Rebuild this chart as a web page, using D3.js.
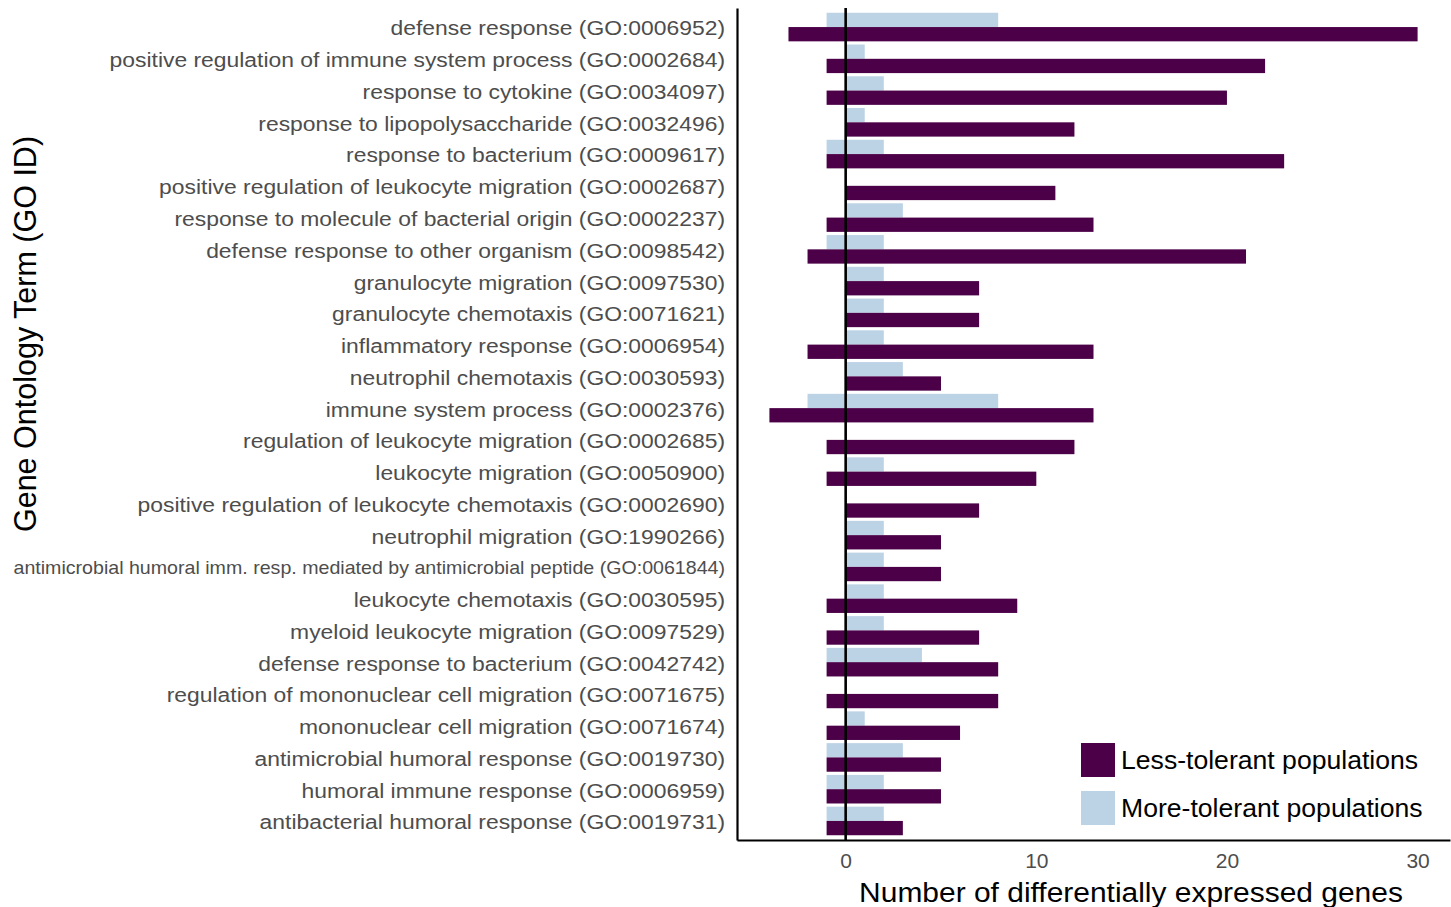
<!DOCTYPE html>
<html>
<head>
<meta charset="utf-8">
<script src="https://cdn.jsdelivr.net/npm/d3@7"></script>
<style>
  html, body { margin: 0; padding: 0; background: #ffffff; }
  svg { display: block; font-family: "Liberation Sans", Arial, sans-serif; }
</style>
</head>
<body>
<svg id="chart" width="1451" height="907"></svg>
<script>
// GO terms, top to bottom
const terms = [
  "defense response (GO:0006952)",
  "positive regulation of immune system process (GO:0002684)",
  "response to cytokine (GO:0034097)",
  "response to lipopolysaccharide (GO:0032496)",
  "response to bacterium (GO:0009617)",
  "positive regulation of leukocyte migration (GO:0002687)",
  "response to molecule of bacterial origin (GO:0002237)",
  "defense response to other organism (GO:0098542)",
  "granulocyte migration (GO:0097530)",
  "granulocyte chemotaxis (GO:0071621)",
  "inflammatory response (GO:0006954)",
  "neutrophil chemotaxis (GO:0030593)",
  "immune system process (GO:0002376)",
  "regulation of leukocyte migration (GO:0002685)",
  "leukocyte migration (GO:0050900)",
  "positive regulation of leukocyte chemotaxis (GO:0002690)",
  "neutrophil migration (GO:1990266)",
  "antimicrobial humoral imm. resp. mediated by antimicrobial peptide (GO:0061844)",
  "leukocyte chemotaxis (GO:0030595)",
  "myeloid leukocyte migration (GO:0097529)",
  "defense response to bacterium (GO:0042742)",
  "regulation of mononuclear cell migration (GO:0071675)",
  "mononuclear cell migration (GO:0071674)",
  "antimicrobial humoral response (GO:0019730)",
  "humoral immune response (GO:0006959)",
  "antibacterial humoral response (GO:0019731)"
];

// Number of up-regulated (positive) and down-regulated (negative) genes per term
const lessUp   = [30, 22, 20, 12, 23, 11, 13, 21, 7, 7, 13, 5, 13, 12, 10, 7, 5, 5, 9, 7, 8, 8, 6, 5, 5, 3];
const lessDown = [-3, -1, -1,  0, -1,  0, -1, -2, 0, 0, -2, 0, -4, -1, -1, 0, 0, 0, -1, -1, -1, -1, -1, -1, -1, -1];
const moreUp   = [ 8,  1,  2,  1,  2,  0,  3,  2, 2, 2,  2, 3,  8,  0,  2, 0, 2, 2, 2, 2, 4, 0, 1, 3, 2, 2];
const moreDown = [-1,  0,  0,  0, -1,  0,  0, -1, 0, 0,  0, 0, -2,  0,  0, 0, 0, 0, 0, 0, -1, 0, 0, -1, -1, -1];

const groups = ["More-tolerant populations", "Less-tolerant populations"];
const legendOrder = ["Less-tolerant populations", "More-tolerant populations"];
const colors = { "Less-tolerant populations": "#4b0047", "More-tolerant populations": "#bcd2e5" };
const xTicks = [0, 10, 20, 30];

// long rows: one record per bar segment
const segments = [];
terms.forEach((t, i) => {
  segments.push({ term: t, group: groups[0], lo: moreDown[i], hi: 0 });
  segments.push({ term: t, group: groups[0], lo: 0, hi: moreUp[i] });
  segments.push({ term: t, group: groups[1], lo: lessDown[i], hi: 0 });
  segments.push({ term: t, group: groups[1], lo: 0, hi: lessUp[i] });
});

const svg = d3.select("#chart");
const panel = { left: 737, right: 1450, top: 8, bottom: 840 };

const allVals = lessUp.concat(lessDown, moreUp, moreDown);
const vMin = d3.min(allVals), vMax = d3.max(allVals);
const pad = (vMax - vMin) * 0.05;
const x = d3.scaleLinear().domain([vMin - pad, vMax + pad]).range([panel.left, panel.right]);

const y = d3.scaleBand().domain(terms).range([panel.top, panel.bottom])
  .paddingInner(0.1).paddingOuter(0.15);
const ySub = d3.scaleBand().domain(groups).range([0, y.bandwidth()]);

// bars
svg.append("g").selectAll("rect")
  .data(segments.filter(d => d.hi !== d.lo))
  .join("rect")
  .attr("x", d => x(d.lo))
  .attr("width", d => x(d.hi) - x(d.lo))
  .attr("y", d => y(d.term) + ySub(d.group))
  .attr("height", ySub.bandwidth())
  .attr("fill", d => colors[d.group]);

// zero reference line
svg.append("line")
  .attr("x1", x(0)).attr("x2", x(0))
  .attr("y1", panel.top).attr("y2", panel.bottom)
  .attr("stroke", "#000").attr("stroke-width", 2.6);

// y axis with term labels
const yAxis = svg.append("g")
  .attr("transform", `translate(${panel.left},0)`)
  .call(d3.axisLeft(y).tickSize(0).tickSizeOuter(0).tickPadding(11));
yAxis.select(".domain").attr("stroke", "#000").attr("stroke-width", 2.2);
yAxis.selectAll(".tick text")
  .attr("fill", "#4d4d4d")
  .attr("dy", "0.4em")
  .style("font-size", d => d.startsWith("antimicrobial humoral imm.") ? "18px" : "21px")
  .attr("transform", "scale(1.09,1)");

// x axis
const xAxis = svg.append("g")
  .attr("transform", `translate(0,${panel.bottom})`)
  .call(d3.axisBottom(x).tickValues(xTicks).tickSize(0).tickSizeOuter(0).tickPadding(13));
xAxis.select(".domain").attr("stroke", "#000").attr("stroke-width", 2.2);
xAxis.selectAll(".tick text")
  .attr("fill", "#4d4d4d")
  .style("font-size", "21px");

// axis titles
svg.append("text")
  .attr("transform", `translate(1131,902) scale(1.07,1)`)
  .attr("text-anchor", "middle")
  .style("font-size", "28px")
  .attr("fill", "#000")
  .text("Number of differentially expressed genes");

svg.append("text")
  .attr("transform", "translate(36,334) rotate(-90)")
  .attr("text-anchor", "middle")
  .style("font-size", "30.5px")
  .attr("fill", "#000")
  .text("Gene Ontology Term (GO ID)");

// legend
const legend = svg.append("g").attr("transform", "translate(1081,743)");
const li = legend.selectAll("g").data(legendOrder).join("g")
  .attr("transform", (d, i) => `translate(0,${i * 48})`);
li.append("rect").attr("width", 34).attr("height", 34).attr("fill", d => colors[d]);
li.append("text")
  .attr("x", 40).attr("y", 17).attr("dy", "0.35em")
  .style("font-size", "26.6px")
  .attr("fill", "#000")
  .text(d => d);
</script>
</body>
</html>
